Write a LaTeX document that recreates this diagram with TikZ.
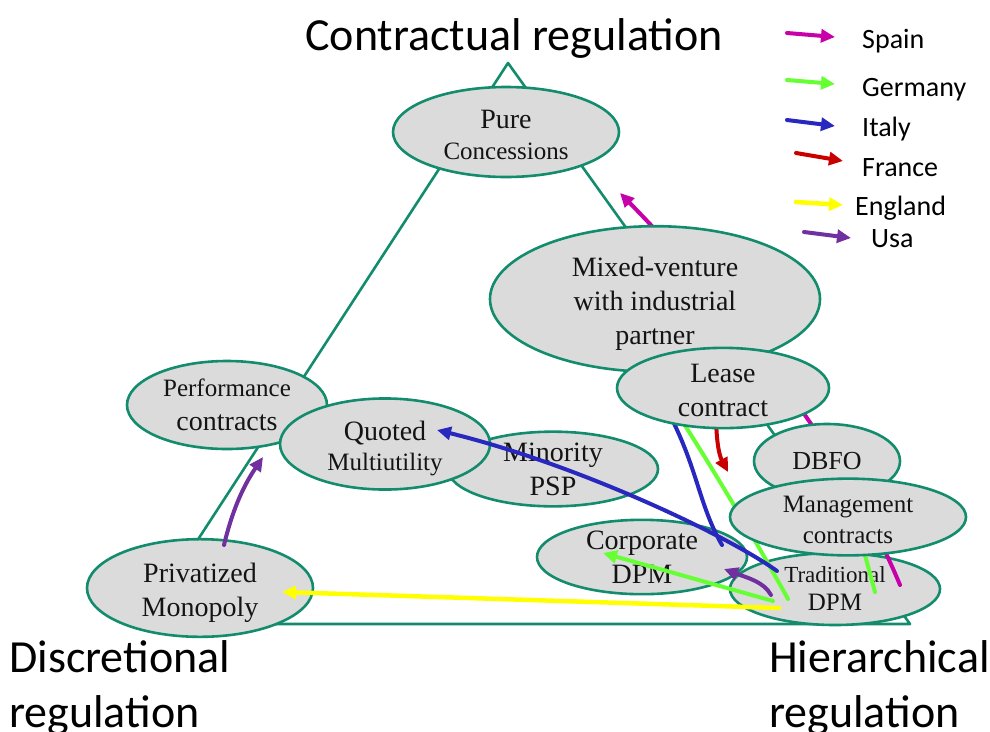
\documentclass[tikz,border=0pt]{standalone}
\usepackage{fontspec}
\setmainfont{Liberation Serif}
\newfontfamily\calib{Carlito}
\usetikzlibrary{shapes.geometric,arrows.meta}

\definecolor{edgeteal}{RGB}{18,140,108}
\definecolor{bubblefill}{RGB}{219,219,219}
\definecolor{textdark}{RGB}{20,20,20}
\definecolor{spainmag}{RGB}{200,0,170}
\definecolor{germanygrn}{RGB}{102,255,51}
\definecolor{italyblue}{RGB}{40,40,190}
\definecolor{francered}{RGB}{200,0,0}
\definecolor{englandyel}{RGB}{255,255,0}
\definecolor{usapurple}{RGB}{112,48,160}

\newcommand\fsmain{\fontsize{28}{34}\selectfont}
\newcommand\fssmall{\fontsize{25}{31}\selectfont}
\newcommand\fstiny{\fontsize{23}{28}\selectfont}
% invisible strut that lowers a label inside its ellipse
\newcommand\lowr[1]{\rule{0pt}{#1}}

\tikzset{
  bubble/.style={ellipse, draw=edgeteal, line width=2.6pt, fill=bubblefill,
    inner sep=0pt, align=center, text=textdark, font=\fsmain},
  flow/.style={line width=4pt, line cap=round,
    -{Triangle[length=14pt,width=13pt]}},
  spainc/.style={flow, draw=spainmag},
  germanyc/.style={flow, draw=germanygrn},
  italyc/.style={flow, draw=italyblue},
  francec/.style={flow, draw=francered},
  englandc/.style={flow, draw=englandyel, line width=4.5pt},
  usac/.style={flow, draw=usapurple},
  heading/.style={inner sep=0pt, font=\calib\fontsize{46}{55}\selectfont, text=black},
  legtext/.style={inner sep=0pt, font=\calib\fontsize{28}{34}\selectfont, text=black, anchor=base west},
}

\begin{document}
\begin{tikzpicture}[x=1pt,y=-1pt]
\useasboundingbox (0,0) rectangle (990,731);

% the regulation triangle
\coordinate (apex) at (508,63);
\coordinate (brc) at (910,624);
\coordinate (blc) at (143,624);
\draw[edgeteal, line width=2.6pt, line join=round] (apex) -- (brc) -- (blc) -- cycle;

% lower layer of forms
\node[bubble, minimum width=200pt, minimum height=88pt] (perf) at (227,405)
  {{\fssmall Performance}\\contracts};
\node[bubble, minimum width=210pt, minimum height=72pt] (minor) at (553,469)
  {Minority\\PSP};
\node[bubble, minimum width=210pt, minimum height=74pt] (quoted) at (385,444)
  {\lowr{29pt}Quoted\\[-4pt]{\fssmall Multiutility}};
\node[bubble, minimum width=226pt, minimum height=88pt] (priv) at (200,588)
  {\lowr{29pt}Privatized\\Monopoly};
\node[bubble, minimum width=210pt, minimum height=74pt] (corp) at (642,557)
  {Corporate\\DPM};
\node[bubble, minimum width=210pt, minimum height=72pt, font=\fstiny] (trad) at (835,589)
  {Traditional\\{\fssmall DPM}};

% country paths
\coordinate (spA) at (900,585);
\coordinate (spB) at (620,193);
\draw[spainc] (spA) .. controls (840,440) and (715,290) .. (spB);

\coordinate (geA) at (788,599);
\coordinate (geB) at (624,332);
\draw[germanyc] (geA) .. controls (750,530) and (690,430) .. (geB);
\coordinate (gcA) at (773,601);
\coordinate (gcB) at (603,553);
\draw[germanyc] (gcA) -- (gcB);
\coordinate (gmA) at (875,592);
\coordinate (gmB) at (856,522);
\draw[germanyc] (gmA) -- (gmB);

\coordinate (itA) at (777,571);
\coordinate (itB) at (437,430);
\draw[italyc] (itA) .. controls (730,537) and (580,465) .. (itB);
\coordinate (itC) at (722,545);
\coordinate (itD) at (612,330);
\draw[italyc] (itC) .. controls (690,490) and (700,440) .. (itD);

\coordinate (frA) at (716,412);
\coordinate (frB) at (728,472);
\draw[francec] (frA) .. controls (716,440) and (719,455) .. (frB);

\coordinate (enA) at (779,608);
\coordinate (enB) at (282,592);
\draw[englandc] (enA) -- (enB);

\coordinate (usA) at (771,595);
\coordinate (usB) at (724,569);
\draw[usac] (usA) .. controls (764,582) and (748,578) .. (usB);
\coordinate (usC) at (224,545);
\coordinate (usD) at (263,457);
\draw[usac] (usC) .. controls (232,512) and (242,488) .. (usD);

% upper layer of forms
\node[bubble, minimum width=330pt, minimum height=118pt] (mixed) at (655,299)
  {\lowr{29pt}Mixed-venture\\with industrial\\partner};
\node[bubble, minimum width=212pt, minimum height=74pt] (lease) at (723,388)
  {\lowr{22.5pt}Lease\\contract};
\node[bubble, minimum width=146pt, minimum height=74pt, font=\fontsize{26}{31}\selectfont] (dbfo) at (827,461)
  {DBFO};
\node[bubble, minimum width=236pt, minimum height=70pt, font=\fssmall] (mgmt) at (848,517)
  {\lowr{23pt}Management\\contracts};
\node[bubble, minimum width=226pt, minimum height=90pt] (pure) at (506,132)
  {\lowr{23.5pt}Pure\\[-3pt]{\fssmall Concessions}};

% corner headings
\node[heading, anchor=base] (ttop) at (514,50) {Contractual regulation};
\node[heading, anchor=base west] (tleftA) at (9,672) {Discretional};
\node[heading, anchor=base west] (tleftB) at (9,727) {regulation};
\node[heading, anchor=base west] (trightA) at (769,672) {Hierarchical};
\node[heading, anchor=base west] (trightB) at (769,727) {regulation};

% legend
\coordinate (lgSa) at (787,33);  \coordinate (lgSb) at (835,37);
\coordinate (lgGa) at (787,80);  \coordinate (lgGb) at (835,84);
\coordinate (lgIa) at (787,120); \coordinate (lgIb) at (835,126);
\coordinate (lgFa) at (796,153); \coordinate (lgFb) at (843,161);
\coordinate (lgEa) at (796,202); \coordinate (lgEb) at (843,205);
\coordinate (lgUa) at (804,232); \coordinate (lgUb) at (851,238);
\draw[spainc] (lgSa) -- (lgSb);
\draw[germanyc] (lgGa) -- (lgGb);
\draw[italyc] (lgIa) -- (lgIb);
\draw[francec] (lgFa) -- (lgFb);
\draw[englandc] (lgEa) -- (lgEb);
\draw[usac] (lgUa) -- (lgUb);
\node[legtext] (lgSpain) at (862,48) {Spain};
\node[legtext] (lgGermany) at (862,96) {Germany};
\node[legtext] (lgItaly) at (862,136) {Italy};
\node[legtext] (lgFrance) at (862,176) {France};
\node[legtext] (lgEngland) at (855,215) {England};
\node[legtext] (lgUsa) at (871,247) {Usa};
\end{tikzpicture}
\end{document}
